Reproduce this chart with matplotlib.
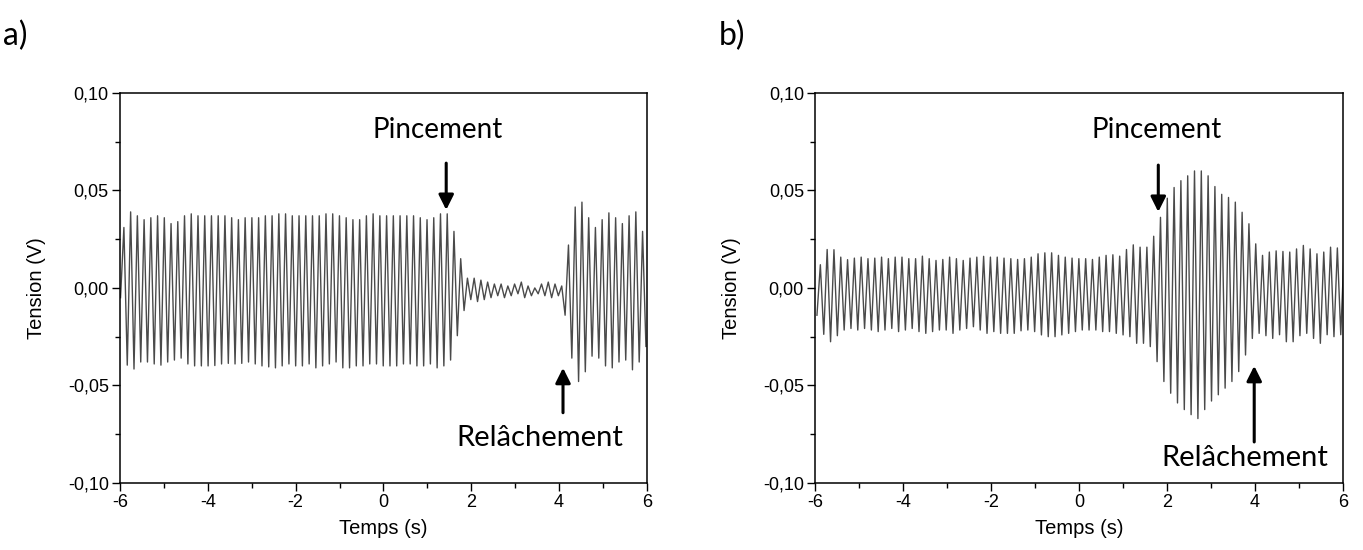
import numpy as np
import matplotlib.pyplot as plt
from matplotlib.ticker import MultipleLocator, FuncFormatter

# a) signal: one maximum and one minimum per cycle (V)
t0_a = -5.91
period_a = 0.1534
start_a = -0.005
peaks_a = [0.031, 0.039, 0.037, 0.035, 0.036, 0.037, 0.036, 0.033, 0.034, 0.037,
           0.038, 0.037, 0.037, 0.037, 0.037, 0.037, 0.036, 0.035, 0.036, 0.036,
           0.036, 0.037, 0.037, 0.038, 0.038, 0.037,
           0.037, 0.037, 0.037, 0.037, 0.038, 0.038, 0.037, 0.036, 0.035, 0.035,
           0.037, 0.038, 0.037, 0.037, 0.037, 0.037, 0.037, 0.037, 0.036, 0.035,
           0.036, 0.038,
           0.038, 0.029, 0.015, 0.005,
           0.005, 0.004, 0.003, 0.002, 0.002, 0.001, 0.002, 0.003, 0.001, 0.000,
           0.002, 0.003, 0.002, 0.001,
           0.022, 0.0415, 0.044, 0.036, 0.031, 0.035, 0.0385, 0.036, 0.033, 0.037,
           0.039, 0.029]
troughs_a = [-0.0396, -0.0416, -0.038, -0.038, -0.039, -0.0396, -0.038, -0.037, -0.036, -0.039,
             -0.040, -0.040, -0.040, -0.0398, -0.039, -0.0387, -0.039, -0.0387, -0.038, -0.039,
             -0.040, -0.0405, -0.041, -0.040, -0.039, -0.040,
             -0.040, -0.039, -0.041, -0.040, -0.039, -0.038, -0.041, -0.041, -0.040, -0.040,
             -0.039, -0.039, -0.040, -0.040, -0.040, -0.039, -0.039, -0.040, -0.040, -0.039,
             -0.041, -0.040,
             -0.037, -0.0245, -0.0116, -0.006,
             -0.007, -0.006, -0.005, -0.004, -0.005, -0.004, -0.003, -0.005, -0.004, -0.003,
             -0.004, -0.005, -0.004, -0.014,
             -0.036, -0.048, -0.043, -0.035, -0.036, -0.040, -0.041, -0.038, -0.037, -0.042,
             -0.038, -0.030]

# b) signal
t0_b = -5.88
period_b = 0.1546
start_b = -0.014
peaks_b = [0.0119, 0.0197, 0.0196, 0.0158, 0.0145, 0.0153, 0.0158, 0.015, 0.0153, 0.0158,
           0.015, 0.0158, 0.0158, 0.015, 0.015, 0.0163, 0.015, 0.0141, 0.0146, 0.0158,
           0.015, 0.0141, 0.0153, 0.0158, 0.0162, 0.0158,
           0.0158, 0.0153, 0.015, 0.0146, 0.015, 0.0158, 0.0175, 0.018, 0.018, 0.0167,
           0.0158, 0.0153, 0.015, 0.015, 0.0146, 0.0158, 0.0167, 0.017, 0.0163, 0.0197,
           0.0221, 0.0209, 0.0209, 0.0265,
           0.0362, 0.046, 0.0515, 0.055, 0.0575, 0.060, 0.060, 0.0575, 0.052, 0.048,
           0.0464, 0.044, 0.0388, 0.0329, 0.0226,
           0.0167, 0.0184, 0.019, 0.0187, 0.0184, 0.020, 0.0218, 0.020, 0.0175, 0.0184,
           0.0209, 0.0205, 0.020]
troughs_b = [-0.0238, -0.0276, -0.0245, -0.0216, -0.0208, -0.0216, -0.0208, -0.0216, -0.0224, -0.0216,
             -0.0208, -0.0224, -0.0216, -0.0208, -0.0224, -0.0233, -0.0224, -0.0216, -0.0216, -0.0233,
             -0.0216, -0.0208, -0.0199, -0.0216, -0.0233, -0.0224,
             -0.0233, -0.0233, -0.0233, -0.022, -0.0216, -0.0224, -0.0241, -0.025, -0.025, -0.0241,
             -0.0233, -0.0224, -0.0216, -0.0216, -0.0216, -0.0224, -0.0224, -0.0233, -0.0241, -0.025,
             -0.0284, -0.0284, -0.0301, -0.0378,
             -0.048, -0.054, -0.059, -0.0624, -0.065, -0.067, -0.0624, -0.058, -0.0548, -0.0514,
             -0.048, -0.0429, -0.0344, -0.0259,
             -0.0233, -0.0245, -0.0259, -0.024, -0.0276, -0.0276, -0.0245, -0.0233, -0.0259, -0.0284,
             -0.024, -0.025, -0.024, -0.022]

panel_labels = ['a)', 'b)']
xlabel = 'Temps (s)'
ylabel = 'Tension (V)'

tick_font = 'Liberation Sans'
note_font = 'Lato'


def build_signal(t0, period, start, peaks, troughs):
    # alternate maxima / minima, half a period apart
    t = [t0 - period / 2]
    v = [start]
    for k in range(len(peaks)):
        t.append(t0 + k * period)
        v.append(peaks[k])
        if k < len(troughs):
            t.append(t0 + k * period + period / 2)
            v.append(troughs[k])
    return np.array(t), np.array(v)


def comma(x, pos):
    return ('%.2f' % x).replace('.', ',')


def style_axes(ax):
    ax.set_xlim(-6, 6)
    ax.set_ylim(-0.10, 0.10)
    ax.xaxis.set_major_locator(MultipleLocator(2))
    ax.xaxis.set_minor_locator(MultipleLocator(1))
    ax.yaxis.set_major_locator(MultipleLocator(0.05))
    ax.yaxis.set_minor_locator(MultipleLocator(0.025))
    ax.yaxis.set_major_formatter(FuncFormatter(comma))
    ax.xaxis.set_major_formatter(FuncFormatter(lambda x, p: '%d' % x))
    ax.tick_params(which='major', direction='out', length=6, width=1, labelsize=13, pad=2)
    ax.tick_params(which='minor', direction='out', length=3.5, width=1)
    for lab in ax.get_xticklabels() + ax.get_yticklabels():
        lab.set_family(tick_font)
    for s in ax.spines.values():
        s.set_linewidth(1.1)
    ax.set_xlabel(xlabel, fontsize=14.5, family=tick_font, labelpad=6)
    ax.set_ylabel(ylabel, fontsize=14.5, family=tick_font, labelpad=16)


fig = plt.figure(figsize=(13.63, 5.5), dpi=100)
ax_a = fig.add_axes([0.088, 0.122, 0.3866, 0.709])
ax_b = fig.add_axes([0.598, 0.122, 0.3874, 0.709])

ta, va = build_signal(t0_a, period_a, start_a, peaks_a, troughs_a)
tb, vb = build_signal(t0_b, period_b, start_b, peaks_b, troughs_b)
ax_a.plot(ta, va, color='#4a4a4a', lw=1.0)
ax_b.plot(tb, vb, color='#4a4a4a', lw=1.0)

for ax in (ax_a, ax_b):
    style_axes(ax)

arrow = dict(arrowstyle='-|>,head_length=0.9,head_width=0.45', color='black', lw=2.2,
             shrinkA=0, shrinkB=0)

# a) annotations
ax_a.annotate('', xy=(1.43, 0.040), xytext=(1.43, 0.064), arrowprops=arrow)
ax_a.text(1.24, 0.081, 'Pincement', ha='center', va='center', fontsize=20, family=note_font)
ax_a.annotate('', xy=(4.09, -0.041), xytext=(4.09, -0.064), arrowprops=arrow)
ax_a.text(3.57, -0.077, 'Relâchement', ha='center', va='center', fontsize=21, family=note_font)

# b) annotations
ax_b.annotate('', xy=(1.80, 0.039), xytext=(1.80, 0.063), arrowprops=arrow)
ax_b.text(1.77, 0.081, 'Pincement', ha='center', va='center', fontsize=20, family=note_font)
ax_b.annotate('', xy=(3.98, -0.040), xytext=(3.98, -0.079), arrowprops=arrow)
ax_b.text(3.77, -0.087, 'Relâchement', ha='center', va='center', fontsize=21, family=note_font)

fig.text(0.002, 0.935, panel_labels[0], fontsize=23, family=note_font, va='center')
fig.text(0.527, 0.935, panel_labels[1], fontsize=23, family=note_font, va='center')

fig.savefig('out.png', dpi=100, facecolor='white')
